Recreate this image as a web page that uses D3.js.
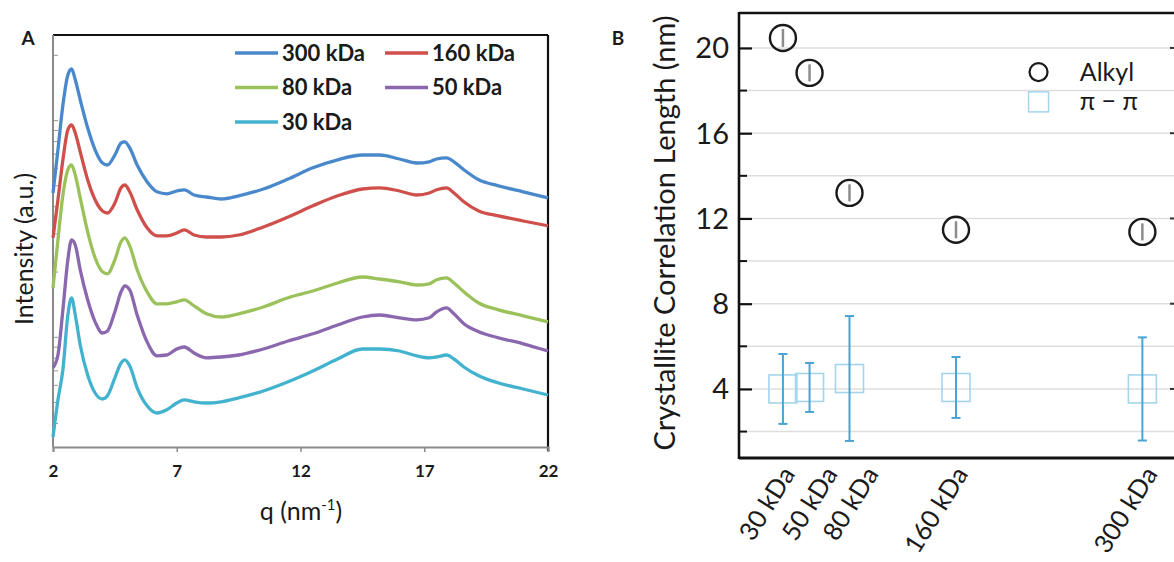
<!DOCTYPE html>
<html>
<head>
<meta charset="utf-8">
<script src="https://cdn.jsdelivr.net/npm/d3@7"></script>
<style>
  body { margin: 0; background: #fff; }
  svg { display: block; }
  text { font-family: Lato, "Open Sans", sans-serif; fill: #1a1a1a; }
</style>
</head>
<body>
<svg id="fig" width="1174" height="562"></svg>
<script>
// ---------- Panel A: WAXS line profiles (intensity vs q) ----------
const q = [2.0, 2.2, 2.4, 2.6, 2.75, 2.9, 3.1, 3.4, 3.7, 4.0, 4.2, 4.5, 4.75, 4.9, 5.1, 5.4, 5.8, 6.2, 6.6, 7.0, 7.3,
           7.7, 8.2, 8.8, 9.5, 10.5, 11.5, 12.5, 13.5, 14.5, 15.2, 16.0, 16.7, 17.2, 17.5, 17.9, 18.2, 18.6, 19.2, 20.0, 21.0, 22.0];

const i300 = [63.5, 74.3, 85.5, 93.0, 94.5, 91.8, 86.8, 79.8, 74.3, 71.0, 70.5, 73.0, 76.0, 76.3, 74.8, 70.5, 66.3, 63.8, 63.3, 64.0, 64.3,
              63.0, 62.5, 62.0, 62.8, 64.5, 67.0, 69.8, 71.8, 73.0, 73.0, 72.0, 71.0, 71.3, 72.0, 72.3, 71.3, 69.3, 66.8, 65.3, 63.8, 62.3];
const i160 = [52.3, 61.8, 71.8, 79.3, 80.5, 78.5, 73.8, 66.8, 61.8, 59.0, 58.5, 61.0, 64.8, 65.5, 63.8, 59.3, 54.8, 52.8, 52.8, 53.5, 54.3,
              53.0, 52.5, 52.5, 53.0, 55.0, 57.5, 60.3, 62.8, 64.5, 64.8, 64.0, 63.0, 63.5, 64.3, 64.8, 63.5, 61.3, 59.0, 57.8, 56.5, 55.3];
const i80  = [39.8, 51.8, 63.0, 69.3, 70.5, 68.0, 62.3, 53.8, 47.3, 43.8, 43.3, 46.8, 51.3, 52.3, 50.3, 44.3, 38.8, 35.8, 35.8, 36.3, 36.8,
              35.3, 33.3, 32.5, 33.3, 35.0, 37.3, 39.0, 41.0, 42.5, 42.0, 41.3, 40.5, 40.8, 41.8, 42.3, 41.0, 38.8, 36.0, 34.3, 32.8, 31.3];
const i50  = [19.8, 23.0, 34.3, 46.8, 51.8, 50.5, 44.3, 36.8, 31.3, 28.5, 29.0, 33.8, 38.8, 40.3, 39.3, 33.0, 26.3, 22.8, 23.0, 24.5, 25.0,
              23.5, 22.3, 22.5, 23.0, 24.5, 26.5, 28.3, 30.5, 32.5, 33.0, 32.3, 31.8, 32.3, 33.8, 34.8, 33.3, 30.8, 28.8, 27.3, 25.8, 24.0];
const i30  = [2.5, 11.8, 19.3, 33.0, 37.3, 33.0, 25.5, 18.0, 13.5, 12.0, 12.8, 17.3, 21.0, 21.8, 20.3, 14.8, 10.3, 8.5, 9.3, 11.0, 11.8,
              11.3, 11.0, 11.3, 12.3, 14.0, 16.3, 19.0, 22.0, 24.5, 24.5, 24.0, 22.8, 22.3, 22.5, 23.0, 22.0, 20.0, 17.8, 16.0, 14.5, 13.0];

const seriesNames  = ["300 kDa", "160 kDa", "80 kDa", "50 kDa", "30 kDa"];
const seriesValues = [i300, i160, i80, i50, i30];
const seriesColors = ["#4a88cc", "#cf4f4b", "#9bc15a", "#8a67ae", "#43b2cf"];
const qTicks = [2, 7, 12, 17, 22];
// minor marks of the unlabeled intensity axis (logarithmic spacing)
const intensityTicks = [4, 5, 6, 7, 8, 9, 10, 20, 30, 40, 50, 60, 70, 80, 90, 100, 200];

// ---------- Panel B: crystallite correlation lengths ----------
const mwLabels = ["30 kDa", "50 kDa", "80 kDa", "160 kDa", "300 kDa"];
const mw       = [30, 50, 80, 160, 300];
const alkyl    = [20.47, 18.83, 13.2, 11.47, 11.37];
const alkylErr = [0.42, 0.4, 0.4, 0.4, 0.4];
const pipi     = [4.0, 4.07, 4.49, 4.07, 4.0];
const pipiErr  = [1.64, 1.15, 2.93, 1.43, 2.42];
const lengthTicks = [4, 8, 12, 16, 20];
const lengthMinor = [2, 6, 10, 14, 18];

const svg = d3.select("#fig");

// ======================= Panel A =======================
const A = { left: 53, right: 548, top: 35, bottom: 447 };
const xA = d3.scaleLinear().domain([2, 22]).range([A.left, A.right]);
const yA = d3.scaleLinear().domain([0, 103]).range([A.bottom, A.top]);
const yTickA = d3.scaleLog().domain([3.1, 247]).range([A.bottom, A.top]);

const gA = svg.append("g");

// frame: black top/right, grey left/bottom axes
gA.append("line").attr("x1", A.left).attr("x2", A.right).attr("y1", A.top).attr("y2", A.top)
  .attr("stroke", "#111").attr("stroke-width", 2.2);
gA.append("line").attr("x1", A.right).attr("x2", A.right).attr("y1", A.top).attr("y2", A.bottom + 4)
  .attr("stroke", "#111").attr("stroke-width", 2.2);

const axAx = gA.append("g").attr("transform", `translate(0,${A.bottom})`)
  .call(d3.axisBottom(xA).tickValues(qTicks).tickSize(5).tickPadding(13));
axAx.select(".domain").attr("stroke", "#8a8a8a").attr("stroke-width", 2);
axAx.selectAll(".tick line").attr("stroke", "#8a8a8a").attr("stroke-width", 1.5);
axAx.selectAll(".tick text").attr("font-size", 17).attr("font-weight", 700)
  .attr("font-family", "Lato, sans-serif").attr("fill", "#1a1a1a");

const ayAx = gA.append("g").attr("transform", `translate(${A.left},0)`)
  .call(d3.axisRight(yTickA).tickValues(intensityTicks).tickSize(5).tickFormat(""));
ayAx.select(".domain").remove();
ayAx.selectAll(".tick line").attr("stroke", "#9a9a9a").attr("stroke-width", 1);
gA.append("line").attr("x1", A.left).attr("x2", A.left).attr("y1", A.top).attr("y2", A.bottom)
  .attr("stroke", "#8a8a8a").attr("stroke-width", 2);

// curves
const lineA = d3.line().x((d, i) => xA(q[i])).y(d => yA(d)).curve(d3.curveMonotoneX);
gA.selectAll("path.profile").data(seriesValues).join("path")
  .attr("class", "profile")
  .attr("d", d => lineA(d))
  .attr("fill", "none")
  .attr("stroke", (d, i) => seriesColors[i])
  .attr("stroke-width", 3.3)
  .attr("stroke-linejoin", "round");

// legend (two columns, row-major)
const legA = gA.append("g");
seriesNames.forEach((name, i) => {
  const col = i % 2, row = Math.floor(i / 2);
  const lx = 235 + col * 150, ly = 53 + row * 34.5;
  legA.append("line").attr("x1", lx).attr("x2", lx + 43).attr("y1", ly).attr("y2", ly)
    .attr("stroke", seriesColors[i]).attr("stroke-width", 3.5);
  legA.append("text").attr("x", lx + 47).attr("y", ly).attr("dy", "0.36em")
    .attr("font-size", 22).attr("font-weight", 700).text(name);
});

// titles
gA.append("text").attr("x", 28).attr("y", 45).attr("text-anchor", "middle")
  .attr("font-size", 19).attr("font-weight", 700).text("A");
gA.append("text").attr("transform", `translate(33,249) rotate(-90)`).attr("text-anchor", "middle")
  .attr("font-size", 25).text("Intensity (a.u.)");
const qt = gA.append("text").attr("x", 301).attr("y", 520).attr("text-anchor", "middle").attr("font-size", 25);
qt.append("tspan").text("q (nm");
qt.append("tspan").attr("font-size", 15).attr("dy", -10).text("-1");
qt.append("tspan").attr("dy", 10).text(")");

// ======================= Panel B =======================
const B = { left: 739, right: 1174, top: 13, bottom: 458 };
const xB = d3.scaleLinear().domain([-3, 323]).range([B.left, 1173]);
const yB = d3.scaleLinear().domain([0.76, 21.64]).range([B.bottom, B.top]);

const gB = svg.append("g");

// gridlines every 2 nm
gB.selectAll("line.grid").data(lengthTicks.concat(lengthMinor)).join("line")
  .attr("class", "grid")
  .attr("x1", B.left + 2).attr("x2", B.right)
  .attr("y1", d => yB(d)).attr("y2", d => yB(d))
  .attr("stroke", "#dedede").attr("stroke-width", 1.5);

// left axis with inward ticks
const byAx = gB.append("g").attr("transform", `translate(${B.left},0)`)
  .call(d3.axisRight(yB).tickValues(lengthTicks).tickSize(13).tickFormat(""));
byAx.select(".domain").remove();
byAx.selectAll(".tick line").attr("stroke", "#111").attr("stroke-width", 2.2);
gB.selectAll("line.minor").data(lengthMinor).join("line")
  .attr("class", "minor")
  .attr("x1", B.left).attr("x2", B.left + 8)
  .attr("y1", d => yB(d)).attr("y2", d => yB(d))
  .attr("stroke", "#111").attr("stroke-width", 2);
gB.selectAll("text.ylab").data(lengthTicks).join("text")
  .attr("class", "ylab")
  .attr("x", B.left - 10).attr("y", d => yB(d)).attr("dy", "0.36em")
  .attr("text-anchor", "end").attr("font-size", 29).text(d => d);

// right edge tick marks
gB.selectAll("line.rtick").data(lengthTicks).join("line")
  .attr("class", "rtick")
  .attr("x1", B.right - 4).attr("x2", B.right)
  .attr("y1", d => yB(d)).attr("y2", d => yB(d))
  .attr("stroke", "#333").attr("stroke-width", 2);

// frame
gB.append("line").attr("x1", B.left).attr("x2", B.left).attr("y1", B.top - 1).attr("y2", B.bottom + 1)
  .attr("stroke", "#111").attr("stroke-width", 2.6);
gB.append("line").attr("x1", B.left).attr("x2", B.right).attr("y1", B.top).attr("y2", B.top)
  .attr("stroke", "#111").attr("stroke-width", 2.6);
gB.append("line").attr("x1", B.left).attr("x2", B.right).attr("y1", B.bottom).attr("y2", B.bottom)
  .attr("stroke", "#111").attr("stroke-width", 3);

// pi-pi stacking: squares with error bars
const sq = 28;
gB.selectAll("rect.pipi").data(pipi).join("rect")
  .attr("class", "pipi")
  .attr("x", (d, i) => xB(mw[i]) - sq / 2).attr("y", d => yB(d) - sq / 2)
  .attr("width", sq).attr("height", sq)
  .attr("fill", "none").attr("stroke", "#a3d5ec").attr("stroke-width", 1.6);
const pipiBars = gB.selectAll("g.pipiErr").data(pipi).join("g").attr("class", "pipiErr")
  .attr("stroke", "#4aa3d4").attr("stroke-width", 2);
pipiBars.append("line")
  .attr("x1", (d, i) => xB(mw[i])).attr("x2", (d, i) => xB(mw[i]))
  .attr("y1", (d, i) => yB(d + pipiErr[i])).attr("y2", (d, i) => yB(d - pipiErr[i]));
pipiBars.append("line")
  .attr("x1", (d, i) => xB(mw[i]) - 4.5).attr("x2", (d, i) => xB(mw[i]) + 4.5)
  .attr("y1", (d, i) => yB(d + pipiErr[i])).attr("y2", (d, i) => yB(d + pipiErr[i]));
pipiBars.append("line")
  .attr("x1", (d, i) => xB(mw[i]) - 4.5).attr("x2", (d, i) => xB(mw[i]) + 4.5)
  .attr("y1", (d, i) => yB(d - pipiErr[i])).attr("y2", (d, i) => yB(d - pipiErr[i]));

// alkyl stacking: open circles with small error bars
gB.selectAll("line.alkErr").data(alkyl).join("line")
  .attr("class", "alkErr")
  .attr("x1", (d, i) => xB(mw[i])).attr("x2", (d, i) => xB(mw[i]))
  .attr("y1", (d, i) => yB(d + alkylErr[i])).attr("y2", (d, i) => yB(d - alkylErr[i]))
  .attr("stroke", "#8c8c8c").attr("stroke-width", 2.5);
gB.selectAll("circle.alkyl").data(alkyl).join("circle")
  .attr("class", "alkyl")
  .attr("cx", (d, i) => xB(mw[i])).attr("cy", d => yB(d)).attr("r", 13)
  .attr("fill", "none").attr("stroke", "#1a1a1a").attr("stroke-width", 2.4);

// rotated category labels (small horizontal nudges keep the crowded ones apart)
const labelNudge = [0, 16, 17, 0, 3];
gB.selectAll("text.xlab").data(mwLabels).join("text")
  .attr("class", "xlab")
  .attr("transform", (d, i) => `translate(${xB(mw[i]) + 13 + labelNudge[i]},474) rotate(-58)`)
  .attr("text-anchor", "end").attr("font-size", 25.5).text(d => d);

// axis title and panel letter
gB.append("text").attr("transform", `translate(675,233) rotate(-90)`).attr("text-anchor", "middle")
  .attr("font-size", 29).text("Crystallite Correlation Length (nm)");
gB.append("text").attr("x", 618).attr("y", 45).attr("text-anchor", "middle")
  .attr("font-size", 19).attr("font-weight", 700).text("B");

// legend
const legB = gB.append("g");
const legAlkylY = yB(18.87), legPipiY = yB(17.47);
legB.append("circle").attr("cx", xB(222)).attr("cy", legAlkylY).attr("r", 9)
  .attr("fill", "none").attr("stroke", "#1a1a1a").attr("stroke-width", 2.2);
legB.append("text").attr("x", xB(253)).attr("y", legAlkylY).attr("dy", "0.36em")
  .attr("font-size", 25).text("Alkyl");
legB.append("rect").attr("x", xB(222) - 10).attr("y", legPipiY - 10).attr("width", 20).attr("height", 20)
  .attr("fill", "none").attr("stroke", "#a3d5ec").attr("stroke-width", 1.5);
legB.append("text").attr("x", xB(253)).attr("y", legPipiY).attr("dy", "0.33em")
  .attr("font-size", 25).attr("font-family", "'Liberation Serif', 'DejaVu Serif', serif").text("π − π");
</script>
</body>
</html>
